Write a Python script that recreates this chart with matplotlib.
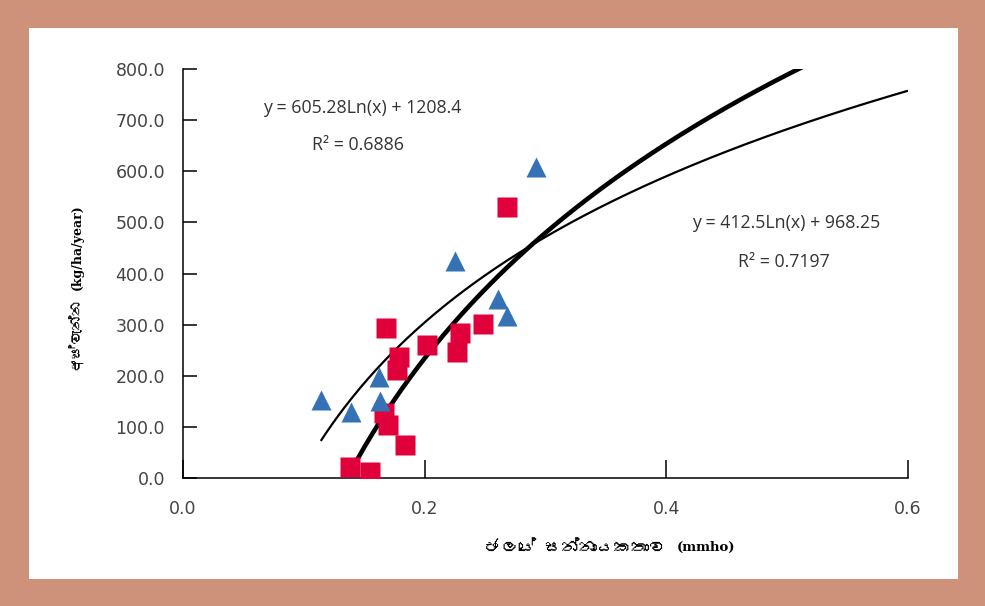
import numpy as np
import matplotlib.pyplot as plt
from matplotlib.patches import Rectangle
from matplotlib import font_manager, ft2font

# triangles (blue series)
tri_x = [0.114, 0.139, 0.162, 0.163, 0.225, 0.261, 0.268, 0.292]
tri_y = [152, 130, 198, 151, 425, 350, 317, 609]

# squares (red series)
sq_x = [0.138, 0.155, 0.166, 0.170, 0.168, 0.184, 0.177, 0.179,
        0.202, 0.227, 0.229, 0.248, 0.268]
sq_y = [22, 12, 127, 104, 293, 65, 211, 236, 260, 247, 283, 301, 531]

# logarithmic trendlines (from the equations shown on the chart)
thick_a, thick_b = 605.28, 1208.4
thin_a, thin_b = 412.5, 968.25

x_ticks = [0.0, 0.2, 0.4, 0.6]
y_ticks = [0, 100, 200, 300, 400, 500, 600, 700, 800]

# look for any installed font that can draw Sinhala
sinhala_fonts = []
for f in font_manager.fontManager.ttflist:
    try:
        cmap = ft2font.FT2Font(f.fname).get_charmap()
    except Exception:
        continue
    if 0x0D85 in cmap and f.name not in sinhala_fonts:
        sinhala_fonts.append(f.name)
sin_family = sinhala_fonts + ['DejaVu Sans']

fig = plt.figure(figsize=(9.85, 6.06), dpi=100)
fig.patch.set_facecolor('#CE917A')
fig.patches.append(Rectangle((29/985, 27/606), 929/985, 551/606,
                             transform=fig.transFigure, facecolor='white',
                             edgecolor='none', zorder=-10))

ax = fig.add_axes([0.1858, 0.2112, 0.736, 0.6749])
ax.set_facecolor('white')

xs = np.linspace(min(sq_x), 0.6, 300)
ax.plot(xs, thick_a * np.log(xs) + thick_b, color='black', lw=3.3,
        solid_capstyle='butt', zorder=2)
xs2 = np.linspace(min(tri_x), 0.6, 300)
ax.plot(xs2, thin_a * np.log(xs2) + thin_b, color='black', lw=1.6,
        solid_capstyle='butt', zorder=2)

ax.plot(sq_x, sq_y, 's', color='#E0003A', ms=14, mec='none', zorder=3)
ax.plot(tri_x, tri_y, '^', color='#3572B5', ms=15, mec='none', zorder=4)

ax.set_xlim(0, 0.6)
ax.set_ylim(0, 800)
ax.set_xticks(x_ticks)
ax.set_xticklabels([f"{v:.1f}" for v in x_ticks])
ax.set_yticks(y_ticks)
ax.set_yticklabels([f"{v:.1f}" for v in y_ticks])

for s in ['top', 'right']:
    ax.spines[s].set_visible(False)
for s in ['left', 'bottom']:
    ax.spines[s].set_linewidth(1.1)

ax.tick_params(axis='y', direction='in', length=10, width=1.1, pad=13,
               labelsize=12.5, labelcolor='#444444')
ax.tick_params(axis='x', direction='in', length=13, width=1.1, pad=16,
               labelsize=12.5, labelcolor='#444444')
for lab in ax.get_xticklabels() + ax.get_yticklabels():
    lab.set_family('DejaVu Sans')

ax.text(0.148, 724, "y = 605.28Ln(x) + 1208.4", fontsize=12.8,
        family='Open Sans', color='#333333', ha='center', va='center')
ax.text(0.145, 651, "R² = 0.6886", fontsize=12.8,
        family='Open Sans', color='#333333', ha='center', va='center')
ax.text(0.499, 499, "y = 412.5Ln(x) + 968.25", fontsize=12.8,
        family='Open Sans', color='#333333', ha='center', va='center')
ax.text(0.4975, 423, "R² = 0.7197", fontsize=12.8,
        family='Open Sans', color='#333333', ha='center', va='center')

# y axis title: Sinhala word then unit, reading bottom to top
fig.text(75/985, 1 - 370/606, "අස්වැන්න", rotation=90,
         ha='center', va='bottom', fontsize=10.5, fontweight='bold',
         family=sin_family)
fig.text(77/985, 1 - 290/606, "(kg/ha/year)", rotation=90,
         ha='center', va='bottom', fontsize=9, fontweight='bold',
         family='DejaVu Serif')

# x axis title
fig.text(666/985, 1 - 547/606, "ජලයේ සන්නායකතාව",
         ha='right', va='center', fontsize=12.5, fontweight='bold',
         family=sin_family)
fig.text(677/985, 1 - 547/606, "(mmho)",
         ha='left', va='center', fontsize=9.5, fontweight='bold',
         family='DejaVu Serif')

fig.savefig('out.png', dpi=100, facecolor=fig.get_facecolor())
